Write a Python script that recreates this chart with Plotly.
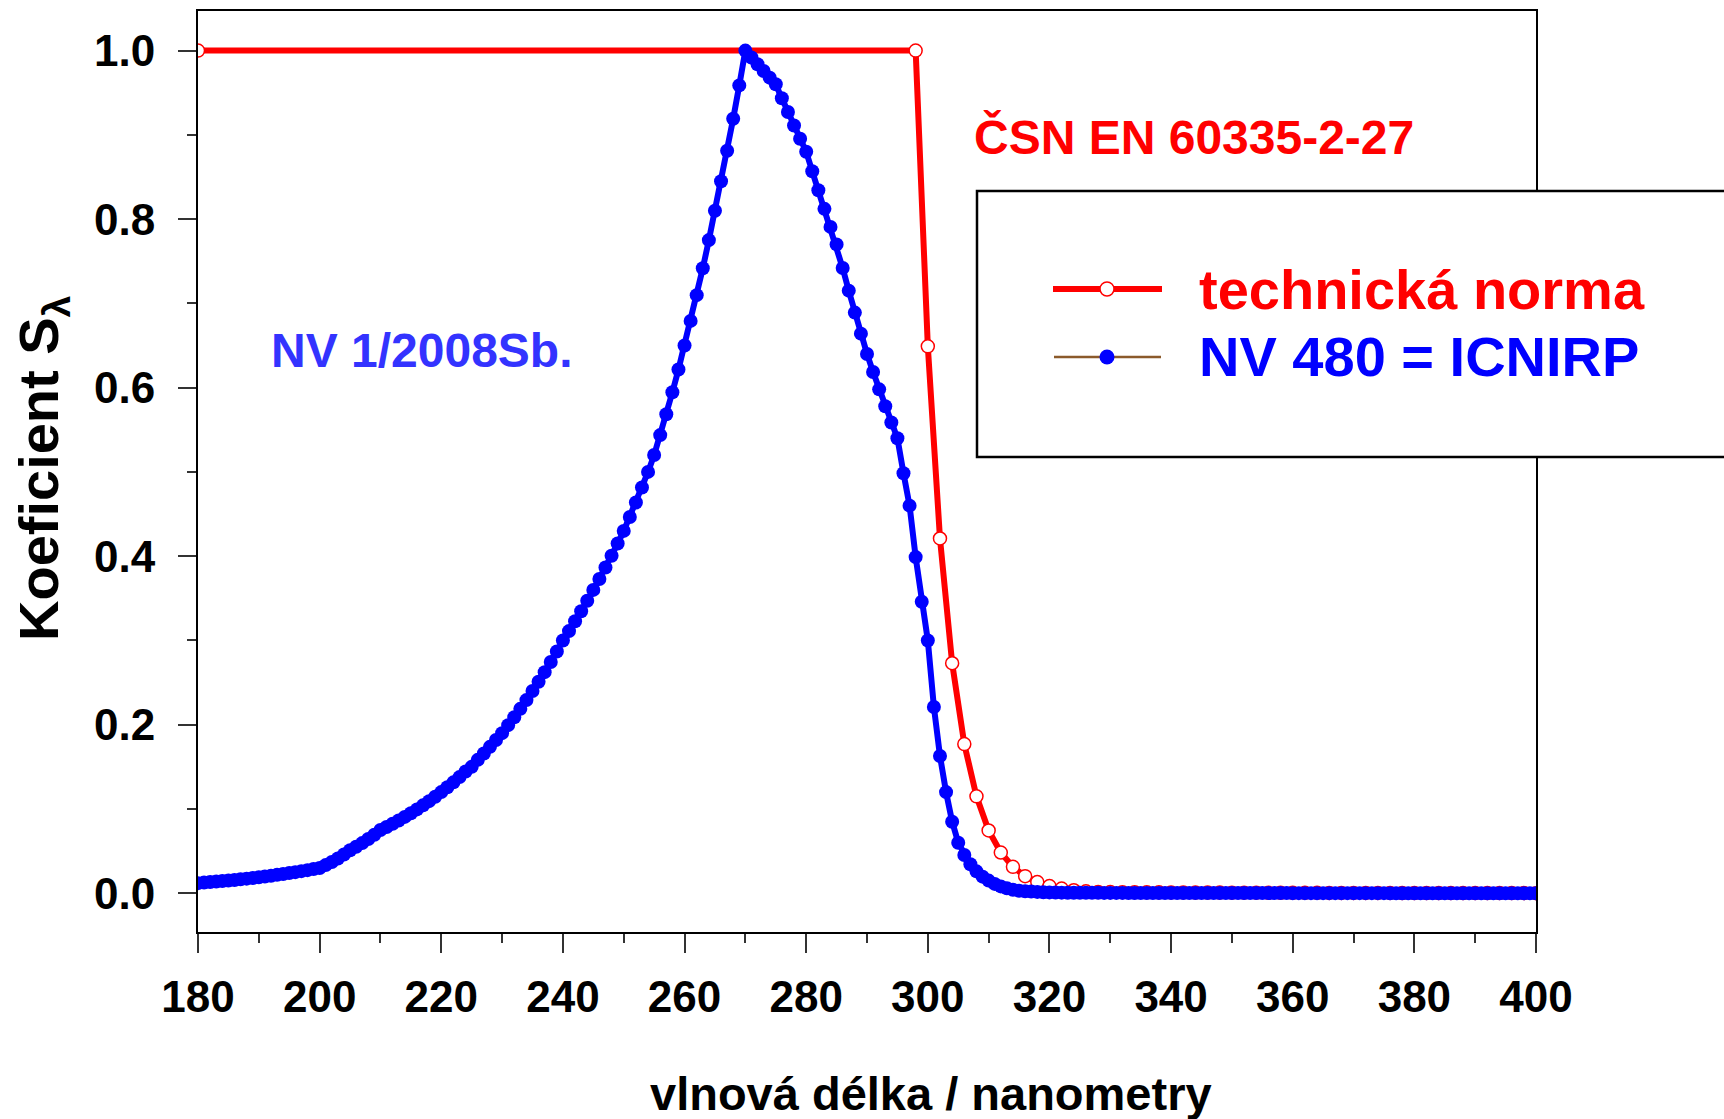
import plotly.graph_objects as go

# ---------------- data ----------------
# ČSN EN 60335-2-27 (technická norma)
norma_wl = [180, 298, 300, 302, 304, 306, 308, 310, 312, 314, 316, 318, 320, 322, 324, 326, 328,
            330, 332, 334, 336, 338, 340, 342, 344, 346, 348, 350, 352, 354, 356, 358, 360,
            362, 364, 366, 368, 370, 372, 374, 376, 378, 380, 382, 384, 386, 388, 390, 392,
            394, 396, 398, 400]
norma_val = [1.0, 1.0, 0.649, 0.421, 0.273, 0.177, 0.115, 0.0745, 0.0483, 0.0313, 0.0203, 0.0132,
             0.00855, 0.00555, 0.0036, 0.00233, 0.00151,
             0.00141, 0.00132, 0.00123, 0.00115, 0.00107, 0.00100, 0.00093, 0.00087, 0.00081,
             0.00076, 0.00071, 0.00066, 0.00062, 0.00058, 0.00054, 0.00050, 0.00047, 0.00044,
             0.00041, 0.00038, 0.00035, 0.00033, 0.00031, 0.00029, 0.00027, 0.00025, 0.00023,
             0.00022, 0.00020, 0.00019, 0.00018, 0.00017, 0.00016, 0.00015, 0.00014, 0.00013]

# NV 480 = ICNIRP (1 nm step)
icnirp_wl = list(range(180, 401))
icnirp_val = [
    0.0120, 0.0126, 0.0132, 0.0138, 0.0144, 0.0151, 0.0158, 0.0166, 0.0173, 0.0181,
    0.0190, 0.0199, 0.0208, 0.0218, 0.0228, 0.0239, 0.0250, 0.0262, 0.0274, 0.0287,
    0.0300, 0.0334, 0.0371, 0.0412, 0.0459, 0.0510, 0.0551, 0.0595, 0.0643, 0.0694,
    0.0750, 0.0786, 0.0824, 0.0864, 0.0906, 0.0950, 0.0995, 0.1043, 0.1093, 0.1145,
    0.1200, 0.1257, 0.1316, 0.1378, 0.1444, 0.1500, 0.1583, 0.1658, 0.1737, 0.1819,
    0.1900, 0.1995, 0.2089, 0.2188, 0.2292, 0.2400, 0.2510, 0.2624, 0.2744, 0.2869,
    0.3000, 0.3111, 0.3227, 0.3347, 0.3471, 0.3600, 0.3730, 0.3865, 0.4005, 0.4150,
    0.4300, 0.4465, 0.4637, 0.4815, 0.5000, 0.5200, 0.5437, 0.5685, 0.5945, 0.6216,
    0.6500, 0.6792, 0.7098, 0.7417, 0.7751, 0.8100, 0.8449, 0.8812, 0.9192, 0.9587,
    1.0000, 0.9919, 0.9838, 0.9758, 0.9679, 0.9600, 0.9434, 0.9272, 0.9112, 0.8954,
    0.8800, 0.8568, 0.8342, 0.8122, 0.7908, 0.7700, 0.7420, 0.7151, 0.6891, 0.6641,
    0.6400, 0.6186, 0.5980, 0.5780, 0.5587, 0.5400, 0.4984, 0.4600, 0.3989, 0.3459,
    0.3000, 0.2210, 0.1629, 0.1200, 0.0849, 0.0600, 0.0454, 0.0344, 0.0260, 0.0197,
    0.0150, 0.0111, 0.0081, 0.0060, 0.0042, 0.0030, 0.0024, 0.0020, 0.0016, 0.0012,
    0.00100, 0.000819, 0.000670, 0.000540, 0.000520, 0.000500, 0.000479, 0.000459, 0.000440, 0.000425,
    0.000410, 0.000396, 0.000383, 0.000370, 0.000355, 0.000340, 0.000327, 0.000315, 0.000303, 0.000291,
    0.000280, 0.000271, 0.000263, 0.000255, 0.000248, 0.000240, 0.000231, 0.000223, 0.000215, 0.000207,
    0.000200, 0.000191, 0.000183, 0.000175, 0.000167, 0.000160, 0.000153, 0.000147, 0.000141, 0.000136,
    0.000130, 0.000126, 0.000122, 0.000118, 0.000114, 0.000110, 0.000106, 0.000103, 0.000099, 0.000096,
    0.000093, 0.000090, 0.000086, 0.000083, 0.000080, 0.000077, 0.000074, 0.000072, 0.000069, 0.000066,
    0.000064, 0.000062, 0.000059, 0.000057, 0.000055, 0.000053, 0.000051, 0.000049, 0.000047, 0.000046,
    0.000044, 0.000042, 0.000041, 0.000039, 0.000037, 0.000036, 0.000035, 0.000033, 0.000032, 0.000031,
    0.000030,
]

x_ticks = [180, 200, 220, 240, 260, 280, 300, 320, 340, 360, 380, 400]
y_ticks = [0.0, 0.2, 0.4, 0.6, 0.8, 1.0]

name_norma = "technická norma"
name_icnirp = "NV 480 = ICNIRP"
label_csn = "ČSN EN 60335-2-27"
label_nv1 = "NV 1/2008Sb."
x_title = "vlnová délka / nanometry"
y_title = "Koeficient S<sub>λ</sub>"

# ---------------- figure ----------------
FONT = "Arial, 'Liberation Sans', sans-serif"
RED = "#FF0000"
BLUE = "#0000FF"

fig = go.Figure()
fig.add_trace(go.Scatter(
    x=norma_wl, y=norma_val, mode="lines+markers", name=name_norma,
    line=dict(color=RED, width=6),
    marker=dict(symbol="circle", size=13, color="white", line=dict(color=RED, width=1.5)),
    showlegend=False,
))
fig.add_trace(go.Scatter(
    x=icnirp_wl, y=icnirp_val, mode="lines+markers", name=name_icnirp,
    line=dict(color=BLUE, width=6),
    marker=dict(symbol="circle", size=14, color=BLUE),
    showlegend=False,
))

axis_common = dict(
    showline=True, linecolor="black", linewidth=2, mirror=True,
    ticks="outside", tickcolor="#333333", tickwidth=1.5,
    showgrid=False, zeroline=False,
    tickfont=dict(family=FONT, size=44, color="black", weight="bold"),
)

fig.update_xaxes(
    range=[180, 400], tickvals=x_ticks, ticklen=19,
    minor=dict(dtick=10, ticks="outside", ticklen=9, tickcolor="#333333", tickwidth=1.5),
    ticklabelstandoff=6,
    **axis_common,
)
fig.update_yaxes(
    range=[-0.046, 1.047], tickvals=y_ticks, tickformat=".1f", ticklen=18,
    minor=dict(dtick=0.1, ticks="outside", ticklen=9, tickcolor="#333333", tickwidth=1.5),
    ticklabelstandoff=14,
    **axis_common,
)

W, H = 1724, 1119
L, R, T, B = 198, 188, 11, 187
pw, ph = W - L - R, H - T - B


def px(xp):
    return (xp - L) / pw


def py(yp):
    return (H - B - yp) / ph


annotations = [
    dict(text=f"<b>{x_title}</b>", x=px(931), y=py(1093), xref="paper", yref="paper",
         showarrow=False, xanchor="center", yanchor="middle",
         font=dict(family=FONT, size=47, color="black")),
    dict(text=f"<b>{y_title}</b>", x=px(42), y=py(468), xref="paper", yref="paper",
         showarrow=False, xanchor="center", yanchor="middle", textangle=-90,
         font=dict(family=FONT, size=56, color="black")),
    dict(text=f"<b>{label_csn}</b>", x=px(972), y=py(137), xref="paper", yref="paper",
         showarrow=False, xanchor="left", yanchor="middle",
         font=dict(family=FONT, size=48, color=RED)),
    dict(text=f"<b>{label_nv1}</b>", x=px(269), y=py(350), xref="paper", yref="paper",
         showarrow=False, xanchor="left", yanchor="middle",
         font=dict(family=FONT, size=48, color="#3333FF")),
    dict(text=f"<b>{name_norma}</b>", x=px(1197), y=py(289), xref="paper", yref="paper",
         showarrow=False, xanchor="left", yanchor="middle",
         font=dict(family=FONT, size=56, color=RED)),
    dict(text=f"<b>{name_icnirp}</b>", x=px(1197), y=py(357), xref="paper", yref="paper",
         showarrow=False, xanchor="left", yanchor="middle",
         font=dict(family=FONT, size=56, color=BLUE)),
]

shapes = [
    # legend box (extends past right edge)
    dict(type="rect", xref="paper", yref="paper", x0=px(977), x1=px(1760), y0=py(457), y1=py(191),
         line=dict(color="black", width=2.5), fillcolor="white", layer="above"),
    # legend sample: technická norma
    dict(type="line", xref="paper", yref="paper", x0=px(1053), x1=px(1162), y0=py(289), y1=py(289),
         line=dict(color=RED, width=6), layer="above"),
    dict(type="circle", xref="paper", yref="paper", xsizemode="pixel", ysizemode="pixel",
         xanchor=px(1107), yanchor=py(289), x0=-7, x1=7, y0=-7, y1=7,
         line=dict(color=RED, width=1.5), fillcolor="white", layer="above"),
    # legend sample: NV 480 = ICNIRP
    dict(type="line", xref="paper", yref="paper", x0=px(1054), x1=px(1161), y0=py(357), y1=py(357),
         line=dict(color="#8B5A2B", width=2.5), layer="above"),
    dict(type="circle", xref="paper", yref="paper", xsizemode="pixel", ysizemode="pixel",
         xanchor=px(1107), yanchor=py(357), x0=-7.5, x1=7.5, y0=-7.5, y1=7.5,
         line=dict(color=BLUE, width=0), fillcolor=BLUE, layer="above"),
]

fig.update_layout(
    width=W, height=H,
    margin=dict(l=L, r=R, t=T, b=B, autoexpand=False),
    paper_bgcolor="white", plot_bgcolor="white",
    annotations=annotations, shapes=shapes,
    showlegend=False,
)

fig.write_html("out.html")
